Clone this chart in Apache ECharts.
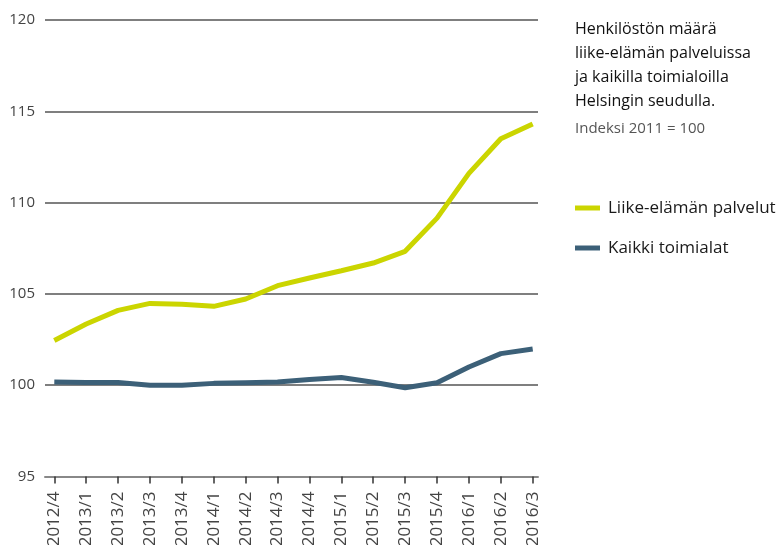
<!DOCTYPE html>
<html>
<head>
<meta charset="utf-8">
<script src="https://cdn.jsdelivr.net/npm/echarts@6/dist/echarts.min.js"></script>
<style>
html,body{margin:0;padding:0;background:#fff;}
#chart{width:778px;height:545px;}
</style>
</head>
<body>
<div id="chart"></div>
<script>
const categories = ['2012/4','2013/1','2013/2','2013/3','2013/4','2014/1','2014/2','2014/3','2014/4','2015/1','2015/2','2015/3','2015/4','2016/1','2016/2','2016/3'];
const liikeElama = [102.45, 103.35, 104.1, 104.48, 104.43, 104.32, 104.72, 105.45, 105.87, 106.27, 106.69, 107.33, 109.15, 111.6, 113.5, 114.3];
const kaikki = [100.18, 100.15, 100.15, 100.0, 100.0, 100.1, 100.14, 100.18, 100.31, 100.42, 100.16, 99.86, 100.13, 101.0, 101.73, 101.98];
const seriesNames = ['Liike-elämän palvelut', 'Kaikki toimialat'];
const titleLines = ['Henkilöstön määrä', 'liike-elämän palveluissa', 'ja kaikilla toimialoilla', 'Helsingin seudulla.'];
const subtitle = 'Indeksi 2011 = 100';
const yMin = 95, yMax = 120, yStep = 5;

const green = '#cbd500';
const blue = '#3c6078';
const font = '"Open Sans", "Noto Sans", sans-serif';

const chart = echarts.init(document.getElementById('chart'), null, {renderer: 'canvas'});
chart.setOption({
  animation: false,
  backgroundColor: '#ffffff',
  textStyle: {fontFamily: font},
  grid: [
    {left: 45, right: 240, top: 20, bottom: 68.5, containLabel: false, outerBoundsMode: 'none'},
    {left: 54.3, right: 245.3, top: 20, bottom: 68.5, containLabel: false, outerBoundsMode: 'none'}
  ],
  xAxis: [
    {gridIndex: 0, type: 'value', min: 0, max: 1, show: true,
      axisLine: {show: true, onZero: false, lineStyle: {color: '#888', width: 2}},
      axisTick: {show: false}, axisLabel: {show: false}, splitLine: {show: false}},
    {gridIndex: 1, type: 'category', data: categories, boundaryGap: false,
      axisLine: {show: false},
      axisTick: {show: true, length: 7, lineStyle: {color: '#333', width: 1.5}},
      axisLabel: {rotate: 90, margin: 15, fontSize: 17, color: '#444', fontFamily: font, interval: 0},
      splitLine: {show: false}}
  ],
  yAxis: [
    {gridIndex: 0, type: 'value', min: yMin, max: yMax, interval: yStep,
      axisLine: {show: false}, axisTick: {show: false},
      axisLabel: {margin: 10, fontSize: 15, color: '#444', fontFamily: font},
      splitLine: {show: true, lineStyle: {color: '#555', width: 1.5}}},
    {gridIndex: 1, type: 'value', min: yMin, max: yMax, interval: yStep, show: false}
  ],
  legend: {
    orient: 'vertical', left: 575, top: 198, padding: 0,
    itemWidth: 25, itemHeight: 5, itemGap: 20,
    icon: 'rect',
    textStyle: {fontSize: 17, color: '#1a1a1a', fontFamily: font, lineHeight: 20, padding: [0,0,0,3]},
    data: seriesNames
  },
  graphic: [
    {type: 'text', left: 575, top: 17,
      style: {text: titleLines.join('\n'), font: '500 16px ' + font, fill: '#111', lineHeight: 24}},
    {type: 'text', left: 575, top: 117,
      style: {text: subtitle, font: '15px ' + font, fill: '#555', lineHeight: 24}}
  ],
  series: [
    {name: seriesNames[0], type: 'line', xAxisIndex: 1, yAxisIndex: 1, data: liikeElama,
      showSymbol: false, symbol: 'none', lineStyle: {color: green, width: 5}, itemStyle: {color: green}},
    {name: seriesNames[1], type: 'line', xAxisIndex: 1, yAxisIndex: 1, data: kaikki,
      showSymbol: false, symbol: 'none', lineStyle: {color: blue, width: 5}, itemStyle: {color: blue}}
  ]
});
</script>
</body>
</html>
